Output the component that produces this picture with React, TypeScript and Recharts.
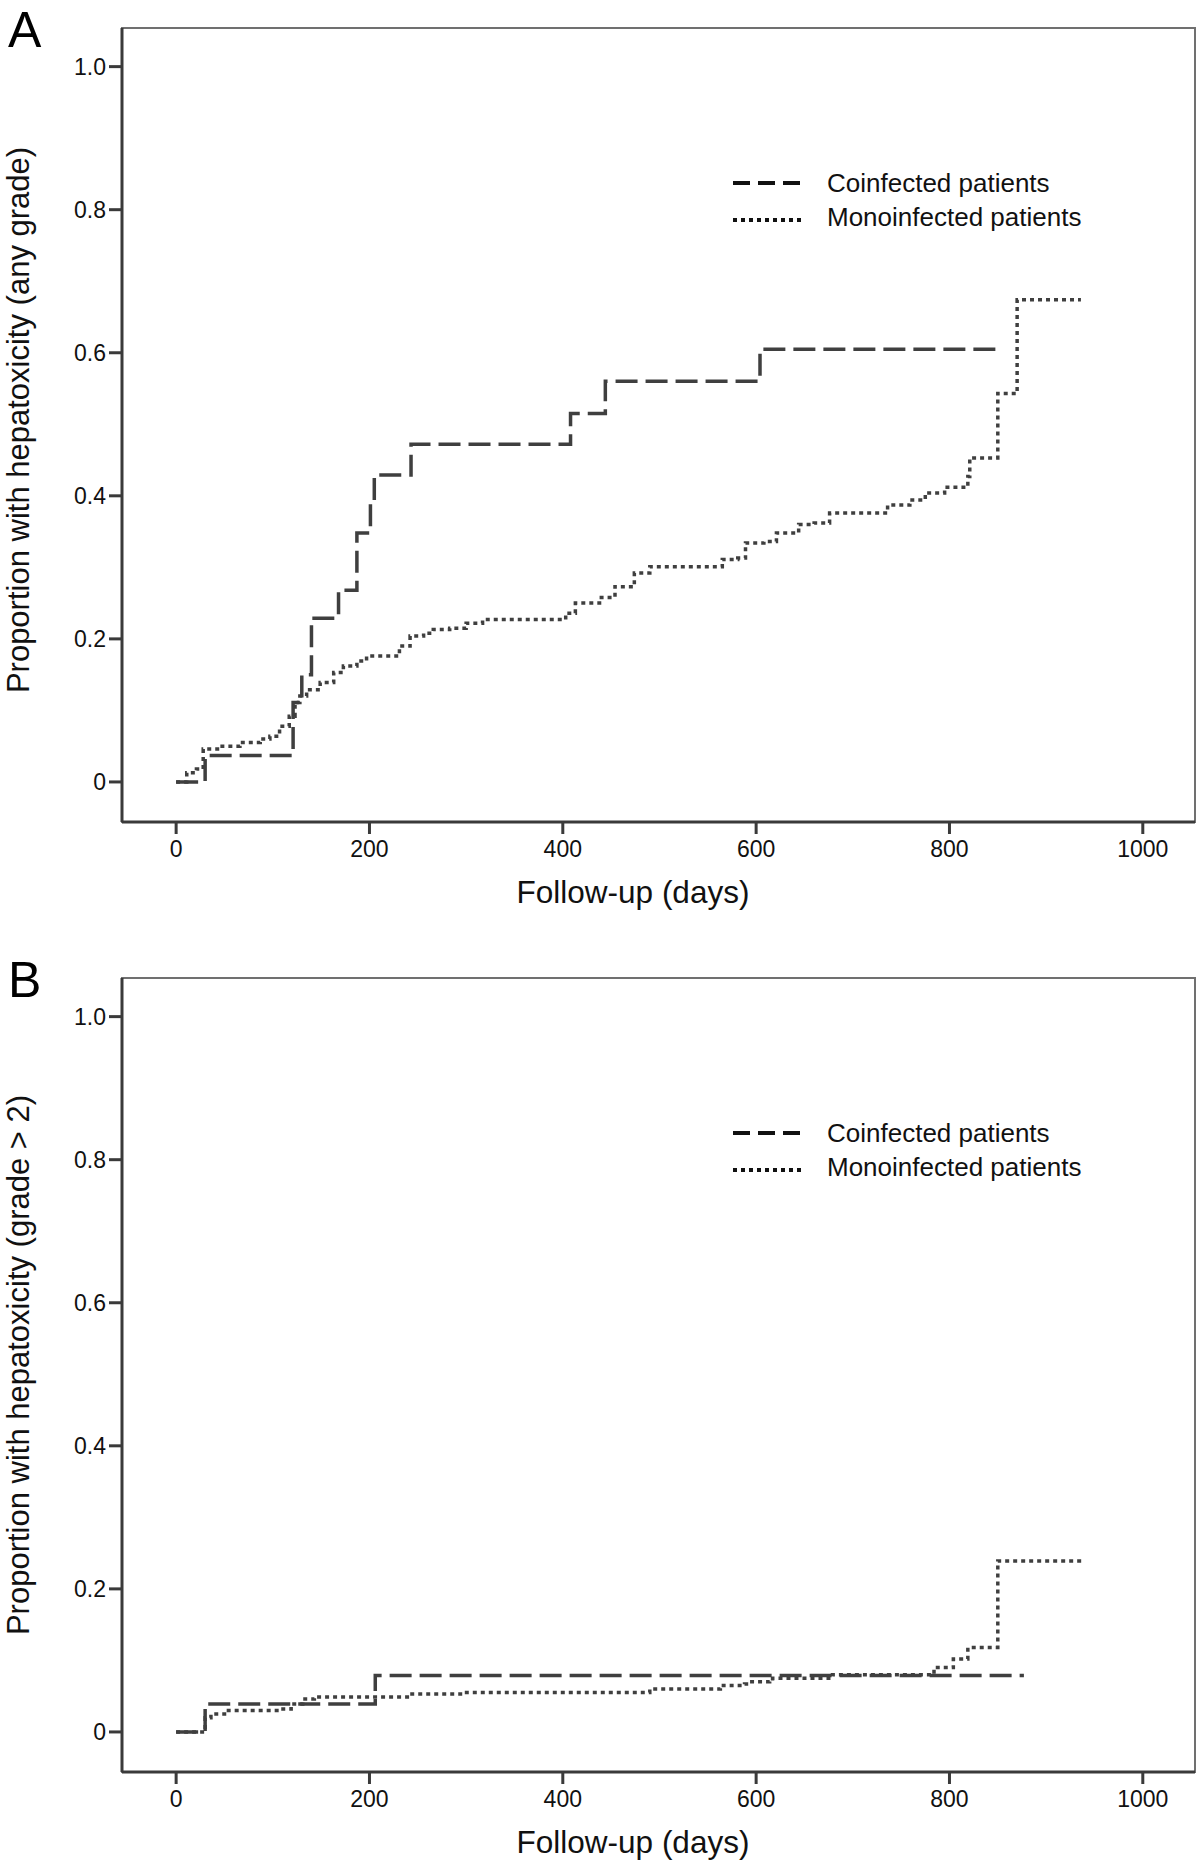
import { Label, Legend, Line, LineChart, ReferenceArea, XAxis, YAxis } from 'recharts';

const dayTicks = [0, 200, 400, 600, 800, 1000];
const proportionTicks = [0, 0.2, 0.4, 0.6, 0.8, 1.0];

// Panel A: hepatotoxicity of any grade
const coinfectedAnyDays = [0, 30, 121, 130, 140, 168, 187, 201, 205, 243, 408, 444, 604, 852];
const coinfectedAnyValues = [0, 0.037, 0.111, 0.15, 0.229, 0.268, 0.348, 0.39, 0.429, 0.472, 0.515, 0.56, 0.605, 0.605];

const monoinfectedAnyDays = [
  0, 11, 21, 28, 45, 66, 87, 97, 107, 117, 123, 128, 135, 149, 163, 173, 187, 197, 231, 242, 256, 266, 283,
  300, 317, 403, 413, 438, 454, 474, 490, 565, 581, 589, 608, 621, 644, 660, 676, 736, 759, 775, 795, 819,
  821, 850, 870, 936,
];
const monoinfectedAnyValues = [
  0, 0.013, 0.018, 0.046, 0.05, 0.055, 0.06, 0.064, 0.078, 0.092, 0.111, 0.12, 0.129, 0.139, 0.153, 0.162,
  0.169, 0.176, 0.19, 0.204, 0.208, 0.213, 0.215, 0.222, 0.227, 0.236, 0.25, 0.258, 0.273, 0.292, 0.301,
  0.311, 0.313, 0.334, 0.336, 0.348, 0.36, 0.362, 0.376, 0.387, 0.394, 0.404, 0.412, 0.427, 0.453, 0.543,
  0.674, 0.674,
];

// Panel B: hepatotoxicity grade > 2
const coinfectedSevereDays = [0, 30, 206, 877];
const coinfectedSevereValues = [0, 0.039, 0.079, 0.079];

const monoinfectedSevereDays = [
  0, 30, 36, 52, 107, 119, 131, 143, 242, 297, 490, 563, 588, 592, 614, 617, 679, 784, 804, 819, 850, 937,
];
const monoinfectedSevereValues = [
  0, 0.02, 0.025, 0.03, 0.032, 0.039, 0.046, 0.049, 0.053, 0.055, 0.06, 0.065, 0.067, 0.07, 0.071, 0.075,
  0.08, 0.09, 0.102, 0.118, 0.239, 0.239,
];

const FONT = '"Liberation Sans", Arial, Helvetica, sans-serif';
const LINE_COLOR = '#3f3f3f';
const X_DOMAIN: [number, number] = [-56, 1054];
const Y_DOMAIN: [number, number] = [-0.056, 1.054];

function toPoints(days: number[], values: number[]) {
  return days.map((day, i) => ({ day, value: values[i] }));
}

function formatProportion(value: number) {
  return value === 0 ? '0' : value.toFixed(1);
}

function KaplanLegend() {
  return (
    <svg width={440} height={80} style={{ fontFamily: FONT }}>
      <line x1={0} y1={23} x2={67} y2={23} stroke="#111" strokeWidth={4} strokeDasharray="17 8" />
      <text x={94} y={32} fontSize={26} fill="#111">
        Coinfected patients
      </text>
      <line x1={0} y1={60} x2={72} y2={60} stroke="#111" strokeWidth={4} strokeDasharray="4 4" />
      <text x={94} y={66} fontSize={26} fill="#111">
        Monoinfected patients
      </text>
    </svg>
  );
}

interface PanelProps {
  letter: string;
  yTitle: string;
  yTitleCenter: number;
  height: number;
  coinfected: { day: number; value: number }[];
  monoinfected: { day: number; value: number }[];
}

function SurvivalPanel({ letter, yTitle, yTitleCenter, height, coinfected, monoinfected }: PanelProps) {
  return (
    <LineChart width={1200} height={height} margin={{ top: 28, right: 5, bottom: height - 822 - 40, left: 62 }}>
      <ReferenceArea
        x1={X_DOMAIN[0]}
        x2={X_DOMAIN[1]}
        y1={Y_DOMAIN[0]}
        y2={Y_DOMAIN[1]}
        fill="none"
        fillOpacity={0}
        stroke="#707070"
        strokeWidth={2}
      />
      <XAxis
        type="number"
        dataKey="day"
        domain={X_DOMAIN}
        ticks={dayTicks}
        allowDataOverflow
        height={40}
        axisLine={{ stroke: '#3a3a3a', strokeWidth: 3 }}
        tickLine={{ stroke: '#3a3a3a', strokeWidth: 3 }}
        tickSize={12}
        tickMargin={7}
        tick={{ fontSize: 23, fill: '#111', fontFamily: FONT }}
      >
        <Label
          content={() => (
            <text x={633} y={903} textAnchor="middle" fontSize={31.5} fill="#111" fontFamily={FONT}>
              Follow-up (days)
            </text>
          )}
        />
      </XAxis>
      <YAxis
        type="number"
        domain={Y_DOMAIN}
        ticks={proportionTicks}
        allowDataOverflow
        width={60}
        axisLine={{ stroke: '#3a3a3a', strokeWidth: 3 }}
        tickLine={{ stroke: '#3a3a3a', strokeWidth: 3 }}
        tickSize={13}
        tickMargin={3}
        tickFormatter={formatProportion}
        tick={{ fontSize: 23, fill: '#111', fontFamily: FONT }}
      >
        <Label
          content={() => (
            <g>
              <text
                x={29}
                y={yTitleCenter}
                transform={`rotate(-90 29 ${yTitleCenter})`}
                textAnchor="middle"
                fontSize={31}
                fill="#111"
                fontFamily={FONT}
              >
                {yTitle}
              </text>
              <text x={8} y={47} fontSize={50} fill="#000" fontFamily={FONT}>
                {letter}
              </text>
            </g>
          )}
        />
      </YAxis>
      <Legend
        layout="horizontal"
        align="center"
        verticalAlign="middle"
        content={() => <KaplanLegend />}
        wrapperStyle={{ left: 733, top: 160, width: 440, height: 80 }}
      />
      <Line
        data={monoinfected}
        dataKey="value"
        name="Monoinfected patients"
        type="stepAfter"
        stroke={LINE_COLOR}
        strokeWidth={3.5}
        strokeDasharray="4 4"
        dot={false}
        activeDot={false}
        isAnimationActive={false}
      />
      <Line
        data={coinfected}
        dataKey="value"
        name="Coinfected patients"
        type="stepAfter"
        stroke={LINE_COLOR}
        strokeWidth={3.5}
        strokeDasharray="22 8"
        dot={false}
        activeDot={false}
        isAnimationActive={false}
      />
    </LineChart>
  );
}

export default function App() {
  return (
    <div style={{ position: 'absolute', left: 0, top: 0, width: 1200, height: 1869, background: '#fff' }}>
      <div style={{ position: 'absolute', left: 0, top: 0 }}>
        <SurvivalPanel
          letter="A"
          yTitle="Proportion with hepatoxicity (any grade)"
          yTitleCenter={420}
          height={950}
          coinfected={toPoints(coinfectedAnyDays, coinfectedAnyValues)}
          monoinfected={toPoints(monoinfectedAnyDays, monoinfectedAnyValues)}
        />
      </div>
      <div style={{ position: 'absolute', left: 0, top: 950 }}>
        <SurvivalPanel
          letter="B"
          yTitle="Proportion with hepatoxicity (grade > 2)"
          yTitleCenter={415}
          height={919}
          coinfected={toPoints(coinfectedSevereDays, coinfectedSevereValues)}
          monoinfected={toPoints(monoinfectedSevereDays, monoinfectedSevereValues)}
        />
      </div>
    </div>
  );
}
